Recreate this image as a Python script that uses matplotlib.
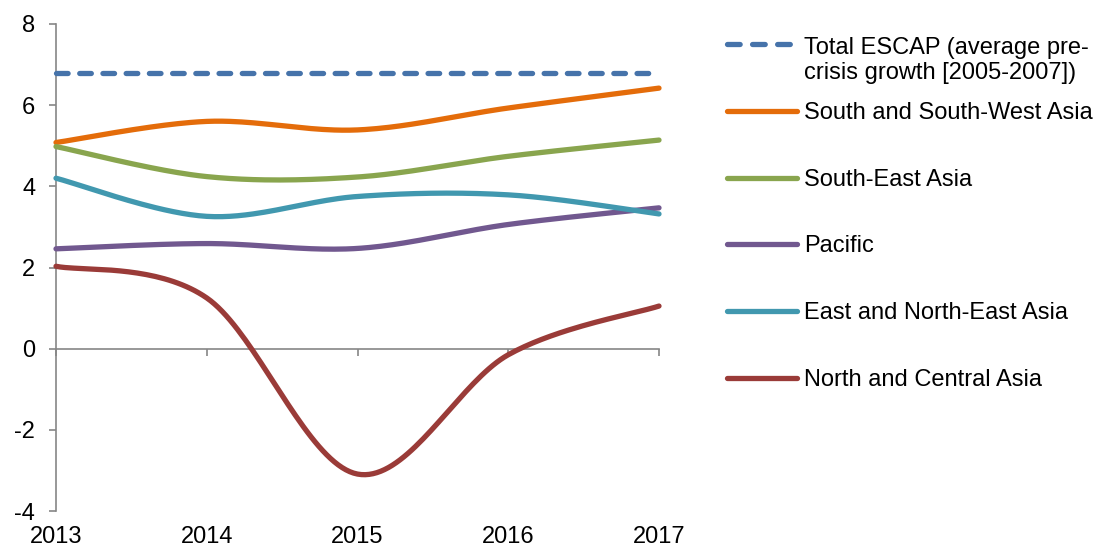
import matplotlib
matplotlib.use("Agg")
import matplotlib.pyplot as plt
from matplotlib.lines import Line2D
import numpy as np

plt.rcParams['font.family'] = ['Liberation Sans', 'DejaVu Sans']

years = [2013, 2014, 2015, 2016, 2017]

total_escap = [6.8, 6.8, 6.8, 6.8, 6.8]
south_sw_asia = [5.08, 5.60, 5.39, 5.93, 6.42]
south_east_asia = [4.98, 4.24, 4.23, 4.74, 5.14]
pacific = [2.46, 2.59, 2.47, 3.06, 3.47]
east_ne_asia = [4.20, 3.26, 3.75, 3.79, 3.32]
north_central_asia = [2.03, 1.25, -3.09, -0.15, 1.05]

labels = [
    "Total ESCAP (average pre-\ncrisis growth [2005-2007])",
    "South and South-West Asia",
    "South-East Asia",
    "Pacific",
    "East and North-East Asia",
    "North and Central Asia",
]
colors = ['#4673AA', '#E46C0A', '#89A54E', '#71588F', '#4198AF', '#9A3B38']
y_ticks = [-4, -2, 0, 2, 4, 6, 8]
GRAY = '#868686'
FS = 17


def smooth(x, y, n=40):
    """Excel-like smoothed line: cubic bezier with catmull-rom control points."""
    x = np.asarray(x, float)
    y = np.asarray(y, float)
    pts = np.column_stack([x, y])
    out = []
    t = np.linspace(0, 1, n)[:, None]
    for i in range(len(pts) - 1):
        p0 = pts[max(i - 1, 0)]
        p1 = pts[i]
        p2 = pts[i + 1]
        p3 = pts[min(i + 2, len(pts) - 1)]
        c1 = p1 + (p2 - p0) / 6.0
        c2 = p2 - (p3 - p1) / 6.0
        seg = ((1 - t) ** 3) * p1 + 3 * ((1 - t) ** 2) * t * c1 \
            + 3 * (1 - t) * t ** 2 * c2 + t ** 3 * p2
        out.append(seg if i == 0 else seg[1:])
    out = np.vstack(out)
    return out[:, 0], out[:, 1]


W, H = 1101, 549
fig = plt.figure(figsize=(W / 100, H / 100), dpi=100)
ax = fig.add_axes([56 / W, 1 - 511 / H, (659 - 56) / W, (511 - 24) / H])

series = [total_escap, south_sw_asia, south_east_asia, pacific,
          east_ne_asia, north_central_asia]
lw = 3.8
dash = (0, (2.2, 2.2))
for i, (vals, col) in enumerate(zip(series, colors)):
    if i == 0:
        ax.plot(years, vals, color=col, lw=lw, linestyle=dash,
                dash_capstyle='round', clip_on=False, zorder=3)
    else:
        sx, sy = smooth(years, vals)
        ax.plot(sx, sy, color=col, lw=lw, solid_capstyle='round',
                clip_on=False, zorder=3)

ax.set_xlim(2013, 2017)
ax.set_ylim(-4, 8)
ax.set_yticks(y_ticks)
ax.set_yticklabels([str(v) for v in y_ticks])
ax.set_xticks(years)

for s in ['top', 'right']:
    ax.spines[s].set_visible(False)
ax.spines['left'].set_color(GRAY)
ax.spines['left'].set_linewidth(1.2)
ax.spines['bottom'].set_position(('data', 0))
ax.spines['bottom'].set_color(GRAY)
ax.spines['bottom'].set_linewidth(1.2)
ax.spines['bottom'].set_zorder(2)
ax.tick_params(axis='y', length=5, width=1.2, color=GRAY, pad=10,
               labelsize=FS)
ax.tick_params(axis='x', length=5, width=1.2, color=GRAY, labelbottom=False)

# year labels sit at the bottom of the plot area
sec = ax.secondary_xaxis('bottom')
sec.set_xticks(years)
sec.set_xticklabels([str(y) for y in years])
sec.tick_params(length=0, pad=11, labelsize=FS)
sec.spines['bottom'].set_visible(False)

# legend, drawn by hand to keep entries evenly spaced
row0, step, line_h = 44, 66.8, 27
for i, (lab, col) in enumerate(zip(labels, colors)):
    yp = 1 - (row0 + i * step) / H
    ln = Line2D([727 / W, 797 / W], [yp, yp], color=col, lw=lw,
                transform=fig.transFigure)
    if i == 0:
        ln.set_linestyle((0, (2.4, 2.35)))
        ln.set_dash_capstyle('round')
    else:
        ln.set_solid_capstyle('round')
    fig.add_artist(ln)
    extra = lab.count("\n") * line_h
    fig.text(804 / W, yp - (8 + extra) / H, lab, fontsize=FS,
             va='baseline', ha='left', linespacing=1.15)

fig.savefig('out.png', dpi=100)
